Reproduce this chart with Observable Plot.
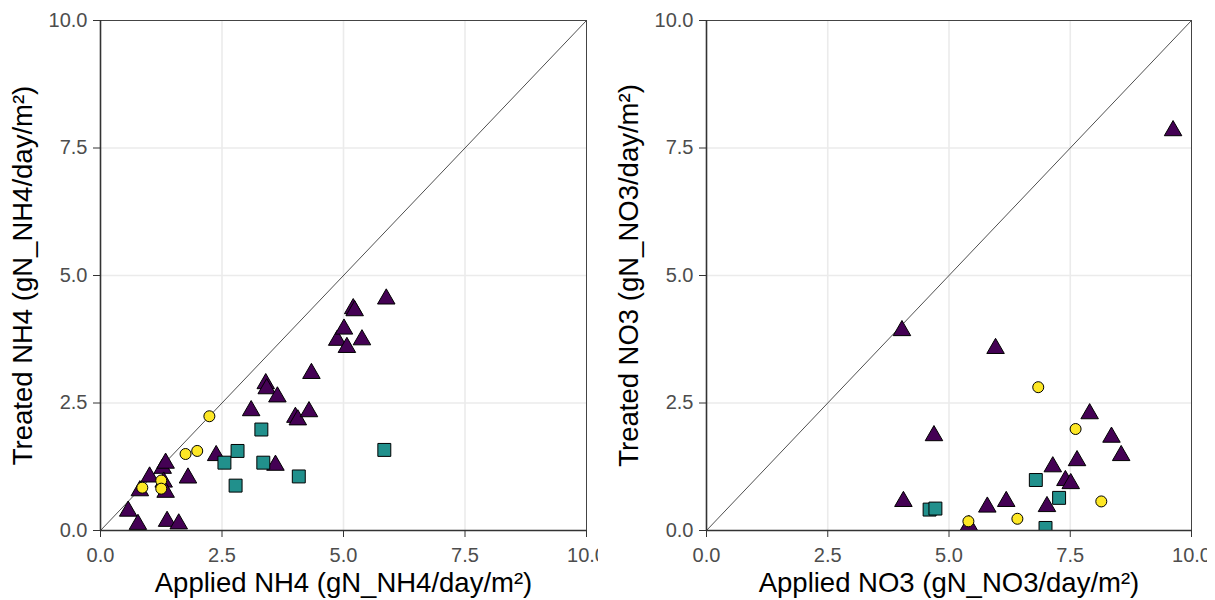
<!DOCTYPE html>
<html>
<head>
<meta charset="utf-8">
<script src="https://cdn.jsdelivr.net/npm/d3@7"></script>
<script src="https://cdn.jsdelivr.net/npm/@observablehq/plot@0.6"></script>
<style>
  html, body { margin: 0; padding: 0; background: #fff; }
  #wrap { position: relative; width: 1215px; height: 600px; overflow: hidden; }
  #left { position: absolute; left: 0; top: 0; }
  #right { position: absolute; left: 606px; top: 0; }
  svg g[aria-label="x-axis tick label"], svg g[aria-label="y-axis tick label"] { fill: #4d4d4d; }
</style>
</head>
<body>
<div id="wrap"><div id="left"></div><div id="right"></div></div>
<script>
// ---- data ----
const axisTicks = [0, 2.5, 5, 7.5, 10];
const gridTicks = [2.5, 5, 7.5];
const diagonal = [0, 10];

// NH4 panel
const nh4TriangleX = [0.57, 0.77, 0.81, 1.01, 1.28, 1.34, 1.30, 1.34, 1.37, 1.61, 1.80, 2.38, 3.10, 3.40, 3.42, 3.64, 3.60, 4.01, 4.06, 4.29, 4.34, 4.87, 5.01, 5.07, 5.20, 5.23, 5.38, 5.88];
const nh4TriangleY = [0.38, 0.12, 0.78, 1.05, 1.22, 1.32, 0.95, 0.75, 0.18, 0.13, 1.03, 1.47, 2.35, 2.88, 2.78, 2.62, 1.28, 2.22, 2.17, 2.33, 3.08, 3.73, 3.95, 3.59, 4.35, 4.31, 3.74, 4.54];
const nh4SquareX = [2.55, 2.82, 2.78, 3.31, 3.35, 4.08, 5.84];
const nh4SquareY = [1.33, 1.56, 0.88, 1.98, 1.33, 1.06, 1.58];
const nh4CircleX = [0.86, 1.25, 1.25, 1.75, 1.99, 2.24];
const nh4CircleY = [0.84, 0.98, 0.82, 1.50, 1.56, 2.24];

// NO3 panel
const no3TriangleX = [4.03, 4.06, 4.69, 5.41, 5.79, 5.96, 6.18, 7.02, 7.14, 7.40, 7.51, 7.64, 7.90, 8.35, 8.55, 9.62];
const no3TriangleY = [3.92, 0.57, 1.86, 0.10, 0.46, 3.57, 0.57, 0.47, 1.25, 0.98, 0.92, 1.37, 2.29, 1.83, 1.47, 7.84];
const no3SquareX = [4.60, 4.72, 6.79, 6.99, 7.27];
const no3SquareY = [0.41, 0.43, 0.99, 0.05, 0.64];
const no3CircleX = [5.40, 6.41, 6.84, 7.61, 8.14];
const no3CircleY = [0.18, 0.23, 2.81, 1.99, 0.57];

const groupFill = {triangle: "#440154", square: "#21908C", circle: "#FDE725"};
const groupR = {triangle: 6.5, square: 7.3, circle: 5.5};

const zip = (xs, ys) => xs.map((x, i) => ({x, y: ys[i]}));

function panel({tri, sq, circ, xLabel, yLabel, width, marginRight}) {
  const dots = (data, sym) => Plot.dot(data, {
    x: "x", y: "y", symbol: sym, r: groupR[sym],
    fill: groupFill[sym], stroke: "black", strokeWidth: 1, clip: true
  });
  return Plot.plot({
    width, height: 600,
    marginLeft: 100, marginRight, marginTop: 20, marginBottom: 70,
    style: {fontFamily: "'Liberation Sans', Arial, sans-serif", overflow: "hidden", background: "#fff"},
    x: {domain: [0, 10]},
    y: {domain: [0, 10]},
    marks: [
      Plot.gridX(gridTicks, {stroke: "#ebebeb", strokeOpacity: 1, strokeWidth: 1.6}),
      Plot.gridY(gridTicks, {stroke: "#ebebeb", strokeOpacity: 1, strokeWidth: 1.6}),
      Plot.line(diagonal, {x: d => d, y: d => d, stroke: "#222", strokeWidth: 0.8}),
      dots(tri, "triangle"),
      dots(sq, "square"),
      dots(circ, "circle"),
      Plot.frame({stroke: "#444", strokeWidth: 1}),
      Plot.ruleX([0], {stroke: "#333", strokeWidth: 1.6}),
      Plot.ruleY([0], {stroke: "#333", strokeWidth: 1.6}),
      Plot.axisX({ticks: axisTicks, tickFormat: d3.format(".1f"), tickSize: 7, tickPadding: 10,
                  fontSize: 20, color: "#333", label: null}),
      Plot.axisY({ticks: axisTicks, tickFormat: d3.format(".1f"), tickSize: 7, tickPadding: 6,
                  fontSize: 20, color: "#333", label: null}),
      Plot.text([xLabel], {text: d => d, frameAnchor: "bottom", textAnchor: "middle", lineAnchor: "middle",
                           dy: 53, fontSize: 27.5, fill: "black"}),
      Plot.text([yLabel], {text: d => d, frameAnchor: "left", textAnchor: "middle", lineAnchor: "middle",
                           rotate: -90, dx: -77, fontSize: 27.5, fill: "black"})
    ]
  });
}

document.getElementById("left").appendChild(panel({
  tri: zip(nh4TriangleX, nh4TriangleY),
  sq: zip(nh4SquareX, nh4SquareY),
  circ: zip(nh4CircleX, nh4CircleY),
  xLabel: "Applied NH4 (gN_NH4/day/m²)",
  yLabel: "Treated NH4 (gN_NH4/day/m²)",
  width: 598, marginRight: 12
}));

document.getElementById("right").appendChild(panel({
  tri: zip(no3TriangleX, no3TriangleY),
  sq: zip(no3SquareX, no3SquareY),
  circ: zip(no3CircleX, no3CircleY),
  xLabel: "Applied NO3 (gN_NO3/day/m²)",
  yLabel: "Treated NO3 (gN_NO3/day/m²)",
  width: 601, marginRight: 16
}));
</script>
</body>
</html>
